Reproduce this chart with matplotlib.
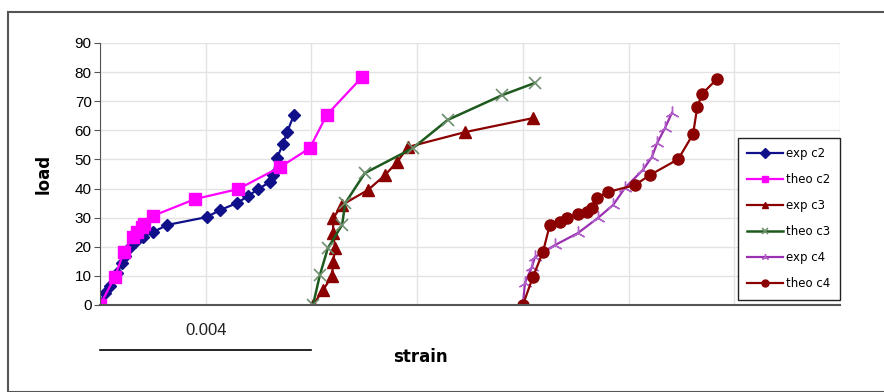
import numpy as np
import matplotlib
matplotlib.use("Agg")
import matplotlib.pyplot as plt
from matplotlib.patches import Rectangle

# strain / load readings
exp_c2_x = [0.0, 0.00010, 0.00019, 0.00032, 0.00042, 0.00047, 0.00057, 0.00066, 0.00081,
            0.00100, 0.00127, 0.00202, 0.00227, 0.00259, 0.00280, 0.00299, 0.00322,
            0.00327, 0.00335, 0.00346, 0.00354, 0.00367]
exp_c2_y = [0.7, 4, 6.5, 11, 14.4, 17, 20, 21.6, 23.4, 25, 27.5, 30.2, 32.6, 35, 37.4,
            39.8, 42.3, 44.6, 50.5, 55.3, 59.4, 65.3]

theo_c2_x = [0.0, 0.00028, 0.00045, 0.00062, 0.00070, 0.00079, 0.00083, 0.00100, 0.00180,
             0.00261, 0.00341, 0.00397, 0.00429, 0.00496]
theo_c2_y = [0, 9.6, 18.2, 23.4, 25, 26.8, 27.8, 30.6, 36.4, 39.8, 47.4, 53.9, 65.3, 78.3]

exp_c3_x = [0.00403, 0.00422, 0.00439, 0.00441, 0.00445, 0.00441, 0.00441, 0.00458,
            0.00507, 0.00539, 0.00562, 0.00583, 0.00691, 0.00819]
exp_c3_y = [0, 5.1, 10, 14.8, 19.5, 24.6, 29.8, 34.4, 39.5, 44.6, 49.1, 54.3, 59.4, 64.2]

theo_c3_x = [0.00403, 0.00416, 0.00431, 0.00458, 0.00464, 0.00501, 0.00592, 0.00658,
             0.00761, 0.00823]
theo_c3_y = [0, 10.3, 19.5, 27.5, 35, 45.3, 53.9, 63.6, 72.1, 76.3]

exp_c4_x = [0.00800, 0.00804, 0.00817, 0.00823, 0.00861, 0.00904, 0.00942, 0.00971,
            0.00993, 0.01027, 0.01044, 0.01054, 0.01069, 0.01082]
exp_c4_y = [0, 7.6, 13, 16.5, 20.6, 24.7, 29.9, 34.4, 40.2, 46.4, 50.8, 55.6, 60.8, 66]

theo_c4_x = [0.00800, 0.00819, 0.00838, 0.00851, 0.00870, 0.00884, 0.00904, 0.00921,
             0.00931, 0.00940, 0.00961, 0.01012, 0.01041, 0.01094, 0.01122, 0.01130,
             0.01139, 0.01167]
theo_c4_y = [0, 9.6, 18.2, 27.5, 28.5, 29.9, 31.3, 32, 33.3, 36.8, 38.8, 41.2, 44.7,
             50.1, 58.7, 68, 72.5, 77.6]

narrow = ['Liberation Sans Narrow', 'Liberation Sans', 'DejaVu Sans']

fig = plt.figure(figsize=(8.84, 3.92), dpi=100)
W, H = 884, 392
# outer chart frame
fig.patches.append(Rectangle((8 / W, 0), 1, 1 - 12 / H, transform=fig.transFigure,
                             fill=False, edgecolor='#555555', linewidth=1.5))

ax = fig.add_axes([100 / W, 1 - 305 / H, 740 / W, 262 / H])

ax.plot(exp_c2_x, exp_c2_y, color='#10108a', lw=1.6, marker='D', ms=6, label='exp c2')
ax.plot(theo_c2_x, theo_c2_y, color='#ff00ff', lw=1.6, marker='s', ms=8, label='theo c2')
ax.plot(exp_c3_x, exp_c3_y, color='#8b0000', lw=1.6, marker='^', ms=8, label='exp c3')
ax.plot(theo_c3_x, theo_c3_y, color='#1e5a1e', lw=1.8, marker='x', ms=9, mew=1.2,
        mec='#6f8f6f', label='theo c3')
ax.plot(exp_c4_x, exp_c4_y, color='#9a2fb0', lw=1.6, marker=(3, 2, 0), ms=10, mew=1.0,
        mec='#b060c8', label='exp c4')
ax.plot(theo_c4_x, theo_c4_y, color='#8b0000', lw=1.6, marker='o', ms=8, label='theo c4')

ax.set_xlim(0, 0.014)
ax.set_ylim(0, 90)
ax.set_xticks(np.arange(0, 0.0141, 0.002))
ax.set_xticklabels([])
ax.set_yticks(np.arange(0, 91, 10))
ax.tick_params(axis='x', length=0)
ax.tick_params(axis='y', length=4, color='#555555', labelsize=11, pad=2)
for lab in ax.get_yticklabels():
    lab.set_family(narrow)
ax.grid(True, color='#e3e3e3', lw=1)
ax.set_axisbelow(True)
for s in ['top', 'right']:
    ax.spines[s].set_visible(False)
ax.spines['left'].set_color('#555555')
ax.spines['bottom'].set_color('#555555')
ax.spines['bottom'].set_linewidth(1.5)

ax.set_ylabel('load', fontsize=12, fontweight='bold', labelpad=16)
fig.text(420 / W, 1 - 357 / H, 'strain', fontsize=12, fontweight='bold',
         ha='center', va='center')

# scale bar
ax.plot([0, 0.004], [-15.3, -15.3], color='black', lw=1.2, clip_on=False)
ax.text(0.002, -8.8, '0.004', fontsize=12, ha='center', va='center', family=narrow,
        color='#222222')

leg = ax.legend(loc='lower right', bbox_to_anchor=(1.0, 0.02), fontsize=8.5,
                frameon=True, fancybox=False, edgecolor='#222222', framealpha=1,
                labelspacing=1.1, handlelength=3.0, borderpad=0.8, handletextpad=0.3,
                borderaxespad=0)
leg.get_frame().set_linewidth(1.0)
for h in leg.legend_handles:
    h.set_markersize(5)

fig.savefig('out.png', dpi=100)
